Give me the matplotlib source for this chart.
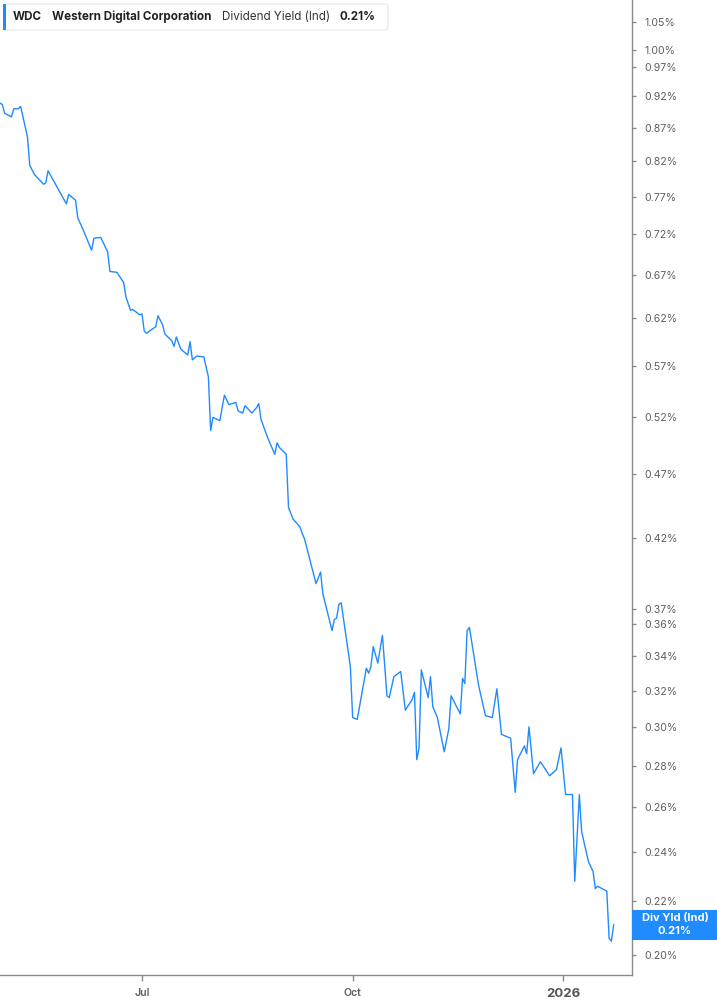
import matplotlib
matplotlib.use("Agg")
import matplotlib.pyplot as plt
import matplotlib.dates as mdates
from matplotlib.patches import Rectangle, FancyBboxPatch
import pandas as pd

# ---------------- data ----------------
dates = [
    "2025-04-30", "2025-05-01", "2025-05-02", "2025-05-05", "2025-05-06", "2025-05-08", "2025-05-09",
    "2025-05-12", "2025-05-13", "2025-05-15", "2025-05-19", "2025-05-20", "2025-05-21", "2025-05-29",
    "2025-05-30", "2025-06-02", "2025-06-03", "2025-06-05", "2025-06-09", "2025-06-10", "2025-06-13",
    "2025-06-16", "2025-06-17", "2025-06-20", "2025-06-23", "2025-06-24", "2025-06-26", "2025-06-27",
    "2025-06-30", "2025-07-01", "2025-07-02", "2025-07-03", "2025-07-07", "2025-07-08", "2025-07-10",
    "2025-07-11", "2025-07-14", "2025-07-15", "2025-07-16", "2025-07-18", "2025-07-21", "2025-07-22",
    "2025-07-23", "2025-07-25", "2025-07-28", "2025-07-30", "2025-07-31", "2025-08-01", "2025-08-04",
    "2025-08-06", "2025-08-08", "2025-08-11", "2025-08-12", "2025-08-14", "2025-08-15", "2025-08-18",
    "2025-08-20", "2025-08-21", "2025-08-22", "2025-08-25", "2025-08-28", "2025-08-29", "2025-08-30",
    "2025-09-02", "2025-09-03", "2025-09-05", "2025-09-08", "2025-09-09", "2025-09-10", "2025-09-15",
    "2025-09-17", "2025-09-18", "2025-09-22", "2025-09-23", "2025-09-24", "2025-09-25", "2025-09-26",
    "2025-09-30", "2025-10-01", "2025-10-03", "2025-10-05", "2025-10-07", "2025-10-08", "2025-10-09",
    "2025-10-10", "2025-10-12", "2025-10-14", "2025-10-16", "2025-10-17", "2025-10-19", "2025-10-22",
    "2025-10-24", "2025-10-27", "2025-10-28", "2025-10-29", "2025-10-30", "2025-10-31", "2025-11-03",
    "2025-11-04", "2025-11-05", "2025-11-07", "2025-11-10", "2025-11-12", "2025-11-13", "2025-11-17",
    "2025-11-18", "2025-11-19", "2025-11-20", "2025-11-21", "2025-11-25", "2025-11-28", "2025-12-01",
    "2025-12-03", "2025-12-05", "2025-12-09", "2025-12-11", "2025-12-12", "2025-12-15", "2025-12-16",
    "2025-12-17", "2025-12-19", "2025-12-22", "2025-12-26", "2025-12-29", "2025-12-31", "2026-01-02",
    "2026-01-05", "2026-01-06", "2026-01-08", "2026-01-09", "2026-01-12", "2026-01-14", "2026-01-15",
    "2026-01-16", "2026-01-20", "2026-01-21", "2026-01-22", "2026-01-23",
]
div_yield = [
    0.909, 0.907, 0.893, 0.887, 0.900, 0.900, 0.904,
    0.856, 0.814, 0.801, 0.787, 0.789, 0.806, 0.760,
    0.773, 0.765, 0.741, 0.728, 0.700, 0.715, 0.716,
    0.698, 0.674, 0.673, 0.661, 0.644, 0.629, 0.630,
    0.624, 0.625, 0.606, 0.604, 0.611, 0.623, 0.613,
    0.603, 0.596, 0.590, 0.600, 0.587, 0.581, 0.595,
    0.576, 0.580, 0.579, 0.559, 0.508, 0.520, 0.517,
    0.541, 0.532, 0.534, 0.526, 0.524, 0.531, 0.524,
    0.529, 0.533, 0.518, 0.501, 0.487, 0.497, 0.493,
    0.487, 0.443, 0.434, 0.428, 0.423, 0.419, 0.387,
    0.395, 0.380, 0.356, 0.363, 0.364, 0.373, 0.374,
    0.334, 0.305, 0.304, 0.318, 0.333, 0.330, 0.334,
    0.346, 0.336, 0.353, 0.317, 0.316, 0.328, 0.331,
    0.309, 0.315, 0.319, 0.283, 0.289, 0.332, 0.316,
    0.328, 0.311, 0.305, 0.287, 0.299, 0.317, 0.307,
    0.327, 0.324, 0.356, 0.358, 0.323, 0.306, 0.305,
    0.321, 0.296, 0.294, 0.267, 0.283, 0.290, 0.286,
    0.300, 0.276, 0.282, 0.275, 0.278, 0.289, 0.266,
    0.266, 0.228, 0.266, 0.249, 0.236, 0.232, 0.225,
    0.226, 0.224, 0.206, 0.205, 0.211,
]
y_ticks = [0.20, 0.22, 0.24, 0.26, 0.28, 0.30, 0.32, 0.34, 0.36, 0.37, 0.42, 0.47,
           0.52, 0.57, 0.62, 0.67, 0.72, 0.77, 0.82, 0.87, 0.92, 0.97, 1.00, 1.05]
x_tick_dates = ["2025-07-01", "2025-10-01", "2026-01-01"]
x_tick_labels = ["Jul", "Oct", "2026"]
ticker = "WDC"
company = "Western Digital Corporation"
metric = "Dividend Yield (Ind)"
last_label = "0.21%"
badge_label = "Div Yld (Ind)"

# ---------------- style ----------------
W, H = 717, 1005
DPI = 100
LINE_C = "#1f8bff"
AXIS_C = "#8a8a8a"
LABEL_C = "#5f5f5f"
FONT = ["Inter", "DejaVu Sans"]
plt.rcParams["font.family"] = FONT

fig = plt.figure(figsize=(W / DPI, H / DPI), dpi=DPI)
ax = fig.add_axes([0, 30 / H, 632 / W, 975 / H])

x = pd.to_datetime(dates)
ax.plot(x, div_yield, color=LINE_C, lw=1.0, solid_joinstyle="round", clip_on=True)

ax.set_yscale("log")
ax.set_ylim(0.1930, 1.092)
ax.set_xlim(pd.Timestamp("2025-04-30"), pd.Timestamp("2026-01-31"))

ax.yaxis.tick_right()
ax.set_yticks(y_ticks)
ax.set_yticklabels([f"{v:.2f}%" for v in y_ticks])
ax.yaxis.set_minor_locator(matplotlib.ticker.NullLocator())
ax.tick_params(axis="y", which="major", length=3, width=1, color=AXIS_C,
               labelsize=7.6, labelcolor=LABEL_C, pad=6)

ax.set_xticks(pd.to_datetime(x_tick_dates))
ax.set_xticklabels(x_tick_labels)
ax.xaxis.set_minor_locator(matplotlib.ticker.NullLocator())
ax.tick_params(axis="x", which="major", length=4, width=1, color=AXIS_C,
               labelsize=7.6, labelcolor=LABEL_C, pad=5)
for lbl in ax.get_xticklabels():
    if lbl.get_text() == "2026":
        lbl.set_fontweight("bold")
        lbl.set_fontsize(9.5)
        lbl.set_color("#555555")
    else:
        lbl.set_fontweight("semibold")

for s in ["left", "top"]:
    ax.spines[s].set_visible(False)
for s in ["right", "bottom"]:
    ax.spines[s].set_color(AXIS_C)
    ax.spines[s].set_linewidth(1.0)

# ---------------- header box ----------------
hdr = FancyBboxPatch((4 / W, 1 - 30 / H), 384 / W, 26 / H,
                     boxstyle="round,pad=0,rounding_size=0.004",
                     transform=fig.transFigure, facecolor="white",
                     edgecolor="#e6e6e6", lw=0.8, zorder=5)
fig.patches.append(hdr)
fig.patches.append(Rectangle((3 / W, 1 - 30 / H), 3 / W, 26 / H, transform=fig.transFigure,
                             facecolor=LINE_C, edgecolor="none", zorder=6))
ty = 1 - 17 / H
HFS = 8.4
fig.text(13 / W, ty, ticker, fontsize=HFS, fontweight="bold", color="#222222", va="center", zorder=7)
fig.text(52 / W, ty, company, fontsize=HFS, fontweight="bold", color="#222222", va="center", zorder=7)
fig.text(222 / W, ty, metric, fontsize=HFS, color="#333333", va="center", zorder=7)
fig.text(339 / W, ty, last_label, fontsize=HFS, fontweight="bold", color="#222222", va="center", zorder=7)

# ---------------- last value badge ----------------
fig.canvas.draw()
_, yd = ax.transData.transform((mdates.date2num(x[-1]), div_yield[-1]))
bh = 30
fig.patches.append(Rectangle((632 / W, (yd - bh / 2) / H), 85 / W, bh / H,
                             transform=fig.transFigure, facecolor=LINE_C,
                             edgecolor="none", zorder=6))
fig.text(675 / W, (yd + 6.5) / H, badge_label, fontsize=8, fontweight="bold",
         color="white", ha="center", va="center", zorder=7)
fig.text(675 / W, (yd - 6.5) / H, last_label, fontsize=8, fontweight="bold",
         color="white", ha="center", va="center", zorder=7)

fig.savefig("out.png", dpi=DPI)
